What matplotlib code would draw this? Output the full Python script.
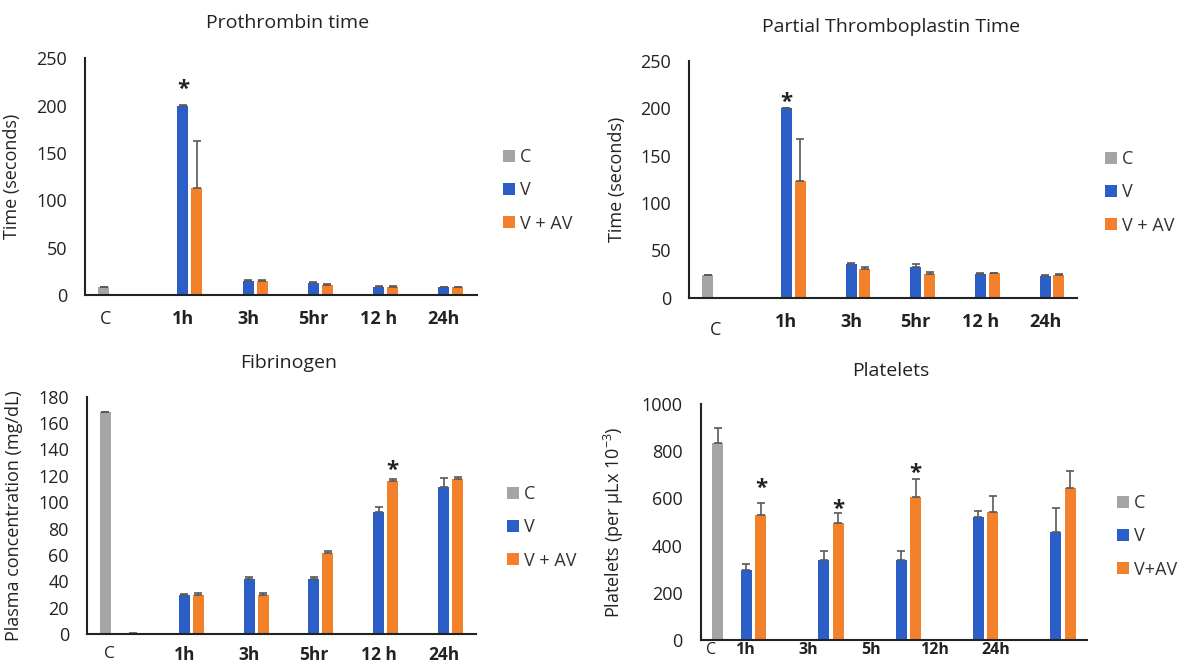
import numpy as np
import matplotlib
matplotlib.use("Agg")
import matplotlib.pyplot as plt
import matplotlib.transforms as mtransforms

plt.rcParams['font.family'] = ['Open Sans', 'DejaVu Sans']
plt.rcParams['mathtext.default'] = 'regular'

GRAY = '#A5A5A5'
BLUE = '#2B5FC7'
ORANGE = '#F3802B'
ERR = '#595959'

# --- Prothrombin time ---
pt_labels = ['C', '1h', '3h', '5hr', '12 h', '24h']
pt_c = [8.8, 0, 0, 0, 0, 0]
pt_v = [0, 199.6, 15, 12.7, 8.8, 8]
pt_v_err = [0, 0.8, 0.8, 0.8, 0.6, 0.4]
pt_av = [0, 113.4, 15, 10.5, 8.8, 8]
pt_av_err = [0, 49.6, 0.8, 0.8, 0.6, 0.4]
pt_star = {1: 224}

# --- Partial Thromboplastin Time ---
ptt_labels = ['C', '1h', '3h', '5hr', '12 h', '24h']
ptt_c = [24.5, 0, 0, 0, 0, 0]
ptt_v = [0, 200, 35.2, 32.7, 25, 23]
ptt_v_err = [0, 0.6, 1.0, 2.5, 0.8, 0.6]
ptt_av = [0, 123.6, 30, 25, 25.7, 24]
ptt_av_err = [0, 44.4, 2.0, 2.3, 0.8, 0.8]
ptt_star = {1: 214}

# --- Fibrinogen ---
fib_labels = ['C', '1h', '3h', '5hr', '12 h', '24h']
fib_c = [168.6, 0, 0, 0, 0, 0]
fib_v = [0, 29.6, 41.7, 41.7, 92.8, 111.5]
fib_v_err = [0, 0.5, 1.8, 1.8, 3.8, 7.0]
fib_av = [0, 29.6, 29.6, 61.2, 116, 117.8]
fib_av_err = [0.8, 1.7, 1.7, 1.8, 1.8, 1.5]
fib_star = {4: 129}

# --- Platelets ---
plt_labels = ['C', '1h', '3h', '5h', '12h', '24h']
plt_label_pos = [-0.36, 0.07, 0.89, 1.71, 2.53, 3.32]
plt_c = [834, 0, 0, 0, 0]
plt_c_err = [63, 0, 0, 0, 0]
plt_v = [298.6, 338, 338, 521, 457.7]
plt_v_err = [24, 38, 38, 25.5, 103]
plt_av = [528, 495.8, 604, 540.8, 643.7]
plt_av_err = [53.7, 40.8, 79, 70.2, 73.3]
plt_star = {0: 672, 1: 584, 2: 735}


def draw_panel(ax, x, offsets, width, c, v, av, c_err, v_err, av_err, stars):
    ek = dict(ecolor=ERR, elinewidth=1.2, capsize=3, capthick=1.2)
    x = np.asarray(x, dtype=float)
    c = np.asarray(c)
    mask = c > 0
    hc = ax.bar(x[mask] + offsets[0], c[mask], width, color=GRAY, label='C',
                yerr=[np.zeros(mask.sum()), np.asarray(c_err)[mask]], error_kw=ek)
    hv = ax.bar(x + offsets[1], v, width, color=BLUE, label='V',
                yerr=[np.zeros(len(v)), v_err], error_kw=ek)
    hav = ax.bar(x + offsets[2], av, width, color=ORANGE, label='V + AV',
                 yerr=[np.zeros(len(av)), av_err], error_kw=ek)
    # asterisk over the taller of the pair, centred on the given height
    for i, ys in stars.items():
        if v[i] + v_err[i] >= av[i] + av_err[i]:
            xs = x[i] + offsets[1]
        else:
            xs = x[i] + offsets[2]
        ax.annotate('*', xy=(xs, ys), xytext=(0, -9), textcoords='offset points',
                    ha='center', va='baseline', fontsize=16, fontweight='bold',
                    color='#222222', annotation_clip=False)
    for s in ['top', 'right']:
        ax.spines[s].set_visible(False)
    for s in ['left', 'bottom']:
        ax.spines[s].set_color('#222222')
        ax.spines[s].set_linewidth(1.5)
    ax.tick_params(axis='y', length=0, labelsize=13, pad=13, colors='#222222')
    ax.set_xticks([])
    return hc, hv, hav


def xlabels(ax, pos, labels, pad_pts, size=13, extra=None):
    trans = mtransforms.blended_transform_factory(ax.transData, ax.transAxes)
    for i, (p, lab) in enumerate(zip(pos, labels)):
        dy = pad_pts
        if extra and i in extra:
            dy += extra[i]
        ax.annotate(lab, xy=(p, 0), xycoords=trans, xytext=(0, -dy),
                    textcoords='offset points', ha='center', va='top',
                    fontsize=size, color='#222222',
                    fontweight='bold' if lab != 'C' else 'normal')


fig = plt.figure(figsize=(11.78, 6.66), dpi=100)
W, H = 1178, 666


def axes_px(l, r, t, b):
    return fig.add_axes([l / W, 1 - b / H, (r - l) / W, (b - t) / H])


def legend_px(handles, labels, x, y):
    fig.legend(handles, labels, loc='upper left', bbox_to_anchor=(x / W, 1 - y / H),
               frameon=False, fontsize=13, handlelength=0.65, handleheight=0.65,
               handletextpad=0.3, labelspacing=0.85, borderpad=0, borderaxespad=0,
               labelcolor='#333333')


def title_px(text, x, y):
    fig.text(x / W, 1 - y / H, text, ha='center', va='center',
             fontsize=14, color='#222222')


six = np.arange(6)
w6 = 0.215
bw6 = 0.17

# Prothrombin time
ax1 = axes_px(85, 476.5, 58.3, 295)
h = draw_panel(ax1, six, (-w6, 0, w6), bw6, pt_c, pt_v, pt_av, [0] * 6,
               pt_v_err, pt_av_err, pt_star)
ax1.set_xlim(-0.5, 5.5)
ax1.set_ylim(0, 250)
ax1.set_yticks(np.arange(0, 251, 50))
ax1.set_ylabel('Time (seconds)', fontsize=13, color='#222222')
ax1.yaxis.set_label_coords(-0.163, 0.5)
xlabels(ax1, [-0.18, 1, 2, 3, 4, 5], pt_labels, 11)
legend_px(h, ['C', 'V', 'V + AV'], 503, 148)
title_px('Prothrombin time', 288, 23)

# Partial Thromboplastin Time
ax2 = axes_px(689.4, 1077.4, 61, 297.7)
h = draw_panel(ax2, six, (-w6, 0, w6), bw6, ptt_c, ptt_v, ptt_av, [0] * 6,
               ptt_v_err, ptt_av_err, ptt_star)
ax2.set_xlim(-0.5, 5.5)
ax2.set_ylim(0, 250)
ax2.set_yticks(np.arange(0, 251, 50))
ax2.set_ylabel('Time (seconds)', fontsize=13, color='#222222')
ax2.yaxis.set_label_coords(-0.164, 0.5)
xlabels(ax2, [-0.1, 1, 2, 3, 4, 5], ptt_labels, 11, extra={0: 6})
legend_px(h, ['C', 'V', 'V + AV'], 1105, 150)
title_px('Partial Thromboplastin Time', 891, 27)

# Fibrinogen
ax3 = axes_px(87, 476, 396.7, 634)
h = draw_panel(ax3, six, (-w6, 0, w6), bw6, fib_c, fib_v, fib_av, [0] * 6,
               fib_v_err, fib_av_err, fib_star)
ax3.set_xlim(-0.5, 5.5)
ax3.set_ylim(0, 180)
ax3.set_yticks(np.arange(0, 181, 20))
ax3.set_ylabel('Plasma concentration (mg/dL)', fontsize=13, color='#222222')
ax3.yaxis.set_label_coords(-0.165, 0.5)
xlabels(ax3, [-0.16, 1, 2, 3, 4, 5], fib_labels, 8.5, size=12.5)
legend_px(h, ['C', 'V', 'V + AV'], 507, 485)
title_px('Fibrinogen', 289, 363)

# Platelets
five = np.arange(5)
slot = 0.1875
ax4 = axes_px(700.6, 1087, 404, 640)
h = draw_panel(ax4, five, (-1.5 * slot, 0.5 * slot, 1.5 * slot), 0.142,
               plt_c, plt_v, plt_av, plt_c_err, plt_v_err, plt_av_err, plt_star)
ax4.set_xlim(-0.5, 4.5)
ax4.set_ylim(0, 1000)
ax4.set_yticks(np.arange(0, 1001, 200))
ax4.set_ylabel('Platelets (per µLx 10$^{-3}$)', fontsize=13, color='#222222')
ax4.yaxis.set_label_coords(-0.194, 0.5)
xlabels(ax4, plt_label_pos, plt_labels, 1.5, size=11.5)
legend_px(h, ['C', 'V', 'V+AV'], 1117, 494)
title_px('Platelets', 891, 371)

fig.savefig('out.png', dpi=100)
